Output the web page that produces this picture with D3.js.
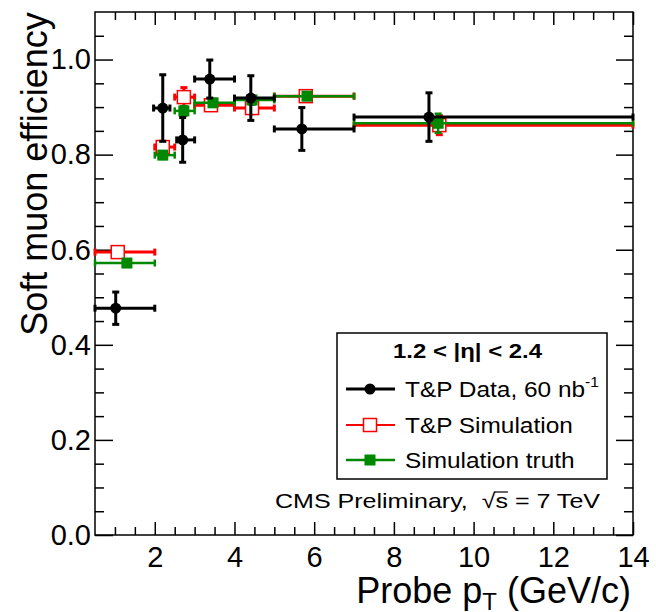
<!DOCTYPE html>
<html>
<head>
<meta charset="utf-8">
<script src="https://cdn.jsdelivr.net/npm/d3@7"></script>
<style>
  body { margin: 0; background: #fff; }
  text { font-family: "Liberation Sans", Arial, Helvetica, sans-serif; }
</style>
</head>
<body>
<svg id="chart" width="656" height="612"></svg>
<script>
// T&P data, 60 nb-1
var dataX = [1.02, 2.2, 2.7, 3.38, 4.41, 5.69, 8.88];
var dataY = [0.477, 0.898, 0.831, 0.959, 0.919, 0.854, 0.879];
var dataYErr = [0.034, 0.07, 0.047, 0.04, 0.047, 0.045, 0.051];
var dataXLo = [0.5, 1.97, 2.55, 3.0, 4.0, 5.0, 7.0];
var dataXHi = [2.0, 2.38, 3.0, 4.0, 5.0, 7.0, 14.0];

// T&P simulation
var simX = [1.07, 2.2, 2.73, 3.41, 4.44, 5.79, 9.14];
var simY = [0.595, 0.816, 0.921, 0.904, 0.898, 0.923, 0.862];
var simYErr = [0.006, 0.01, 0.02, 0.01, 0.012, 0.01, 0.02];

// simulation truth
var truthX = [1.3, 2.2, 2.73, 3.46, 4.44, 5.82, 9.11];
var truthY = [0.572, 0.799, 0.892, 0.909, 0.915, 0.923, 0.866];
var truthYErr = [0.005, 0.008, 0.01, 0.008, 0.01, 0.008, 0.02];

// bins shared by the two simulation series
var binLo = [0.5, 2.0, 2.5, 3.0, 4.0, 5.0, 7.0];
var binHi = [2.0, 2.5, 3.0, 4.0, 5.0, 7.0, 14.0];

var xMajor = [2, 4, 6, 8, 10, 12, 14];
var yMajor = [0.0, 0.2, 0.4, 0.6, 0.8, 1.0];

var svg = d3.select("#chart");
var plot = {left: 95, right: 633, top: 12, bottom: 535};

var x = d3.scaleLinear().domain([0.5, 14]).range([plot.left, plot.right]);
var y = d3.scaleLinear().domain([0, 1.1]).range([plot.bottom, plot.top]);

var xMinor = d3.range(1, 14.01, 0.5).filter(v => xMajor.indexOf(v) < 0);
var yMinor = d3.range(0.05, 1.1, 0.05).filter(v => yMajor.every(m => Math.abs(m - v) > 1e-6));

// axes with inward ticks on all four sides
svg.append("g").attr("transform", "translate(0," + plot.bottom + ")")
    .call(d3.axisBottom(x).tickValues(xMajor).tickFormat(d3.format("d"))
        .tickSizeInner(-13).tickSizeOuter(0).tickPadding(11));
svg.append("g").attr("transform", "translate(0," + plot.bottom + ")")
    .call(d3.axisBottom(x).tickValues(xMinor).tickSizeInner(-8).tickSizeOuter(0))
    .selectAll("text").remove();
svg.append("g").attr("transform", "translate(0," + plot.top + ")")
    .call(d3.axisTop(x).tickValues(xMajor).tickSizeInner(-13).tickSizeOuter(0))
    .selectAll("text").remove();
svg.append("g").attr("transform", "translate(0," + plot.top + ")")
    .call(d3.axisTop(x).tickValues(xMinor).tickSizeInner(-8).tickSizeOuter(0))
    .selectAll("text").remove();

svg.append("g").attr("transform", "translate(" + plot.left + ",0)")
    .call(d3.axisLeft(y).tickValues(yMajor).tickFormat(d3.format(".1f"))
        .tickSizeInner(-18).tickSizeOuter(0).tickPadding(4));
svg.append("g").attr("transform", "translate(" + plot.left + ",0)")
    .call(d3.axisLeft(y).tickValues(yMinor).tickSizeInner(-9).tickSizeOuter(0))
    .selectAll("text").remove();
svg.append("g").attr("transform", "translate(" + plot.right + ",0)")
    .call(d3.axisRight(y).tickValues(yMajor).tickSizeInner(-17).tickSizeOuter(0))
    .selectAll("text").remove();
svg.append("g").attr("transform", "translate(" + plot.right + ",0)")
    .call(d3.axisRight(y).tickValues(yMinor).tickSizeInner(-9).tickSizeOuter(0))
    .selectAll("text").remove();

svg.selectAll(".domain").remove();
svg.selectAll(".tick line").attr("stroke", "#000").attr("stroke-width", 1.5);
svg.selectAll(".tick text").attr("fill", "#000").style("font-size", "29px")
    .style("font-family", "'Liberation Sans', Arial, sans-serif");

svg.append("rect")
    .attr("x", plot.left).attr("y", plot.top)
    .attr("width", plot.right - plot.left).attr("height", plot.bottom - plot.top)
    .attr("fill", "none").attr("stroke", "#000").attr("stroke-width", 1.5);

// axis titles
svg.append("text")
    .attr("transform", "translate(47,174) rotate(-90)")
    .attr("text-anchor", "middle")
    .style("font-size", "36px")
    .text("Soft muon efficiency");

var xt = svg.append("text")
    .attr("x", 631).attr("y", 603)
    .attr("text-anchor", "end")
    .style("font-size", "36px");
xt.append("tspan").text("Probe p");
xt.append("tspan").attr("dy", 7).style("font-size", "24px").text("T");
xt.append("tspan").attr("dy", -7).text(" (GeV/c)");

// draw one series: error bars with end caps, then markers
function drawSeries(xs, ys, yErr, xLo, xHi, color, width, marker) {
    var g = svg.append("g");
    var cap = 3.5;
    xs.forEach(function(xv, i) {
        var cx = x(xv), cy = y(ys[i]);
        var x0 = x(xLo[i]), x1 = x(xHi[i]);
        var y0 = y(ys[i] - yErr[i]), y1 = y(ys[i] + yErr[i]);
        g.append("line").attr("x1", x0).attr("x2", x1).attr("y1", cy).attr("y2", cy)
            .attr("stroke", color).attr("stroke-width", width);
        g.append("line").attr("x1", cx).attr("x2", cx).attr("y1", y0).attr("y2", y1)
            .attr("stroke", color).attr("stroke-width", width);
        [x0, x1].forEach(function(ex) {
            g.append("line").attr("x1", ex).attr("x2", ex).attr("y1", cy - cap).attr("y2", cy + cap)
                .attr("stroke", color).attr("stroke-width", width);
        });
        [y0, y1].forEach(function(ey) {
            g.append("line").attr("x1", cx - cap).attr("x2", cx + cap).attr("y1", ey).attr("y2", ey)
                .attr("stroke", color).attr("stroke-width", width);
        });
        marker(g, cx, cy);
    });
    return g;
}

function circleMarker(g, cx, cy) {
    g.append("circle").attr("cx", cx).attr("cy", cy).attr("r", 5.5).attr("fill", "#000");
}
function openSquare(g, cx, cy) {
    g.append("rect").attr("x", cx - 6.5).attr("y", cy - 6.5).attr("width", 13).attr("height", 13)
        .attr("fill", "#fff").attr("stroke", "#ff0000").attr("stroke-width", 1.5);
}
function filledSquare(g, cx, cy) {
    g.append("rect").attr("x", cx - 5.5).attr("y", cy - 5.5).attr("width", 11).attr("height", 11)
        .attr("fill", "#008800");
}

drawSeries(simX, simY, simYErr, binLo, binHi, "#ff0000", 3, openSquare);
drawSeries(truthX, truthY, truthYErr, binLo, binHi, "#008800", 2.5, filledSquare);
drawSeries(dataX, dataY, dataYErr, dataXLo, dataXHi, "#000", 3, circleMarker);

// legend
var leg = svg.append("g");
leg.append("rect").attr("x", 337).attr("y", 333).attr("width", 270).attr("height", 146)
    .attr("fill", "#fff").attr("stroke", "#000").attr("stroke-width", 1.5);
leg.append("text").attr("x", 393).attr("y", 358)
    .attr("textLength", 149).attr("lengthAdjust", "spacingAndGlyphs")
    .style("font-size", "20px").style("font-weight", "bold")
    .text("1.2 < |\u03b7| < 2.4");

var entries = [
    {label: "T&P Data, 60 nb", sup: "-1", color: "#000", marker: circleMarker, w: 3},
    {label: "T&P Simulation", color: "#ff0000", marker: openSquare, w: 2},
    {label: "Simulation truth", color: "#008800", marker: filledSquare, w: 2.5}
];
var entryY = [389, 425, 460];
entries.forEach(function(e, i) {
    var ey = entryY[i];
    leg.append("line").attr("x1", 346).attr("x2", 395).attr("y1", ey).attr("y2", ey)
        .attr("stroke", e.color).attr("stroke-width", e.w);
    e.marker(leg, 370, ey);
    var t = leg.append("text").attr("transform", "translate(405," + (ey + 8) + ") scale(1.11,1)")
        .style("font-size", "22px").text(e.label);
    if (e.sup) t.append("tspan").attr("dy", -10).style("font-size", "14px").text(e.sup);
});

// CMS label
var cmsStr = "CMS Preliminary,\u00a0\u00a0\u221a";
var cms = svg.append("text").attr("x", 275).attr("y", 508)
    .attr("textLength", 325).attr("lengthAdjust", "spacingAndGlyphs")
    .style("font-size", "21px");
cms.append("tspan").text(cmsStr);
cms.append("tspan").text("s");
cms.append("tspan").text(" = 7 TeV");
var ext = cms.node().getExtentOfChar(cmsStr.length);
svg.append("line").attr("x1", ext.x - 1).attr("x2", ext.x + ext.width)
    .attr("y1", 492).attr("y2", 492)
    .attr("stroke", "#000").attr("stroke-width", 1.2);
</script>
</body>
</html>
